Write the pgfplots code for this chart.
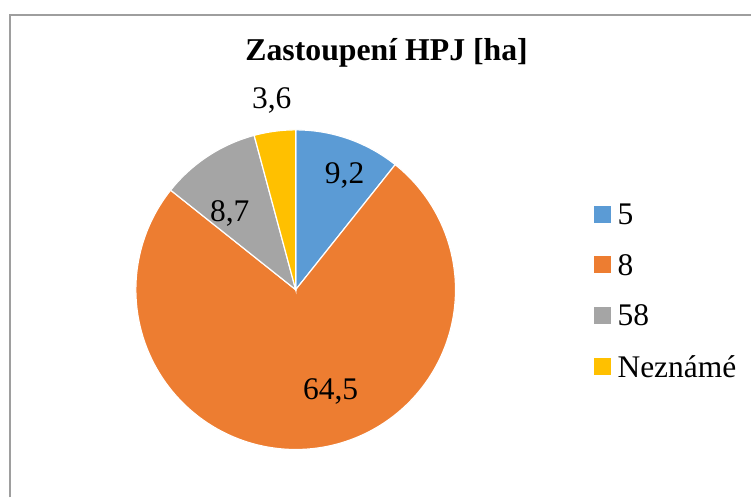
\documentclass[border=0pt]{standalone}
\usepackage{pgfplots}
\pgfplotsset{compat=1.18}
\usepackage{fontspec}
\setmainfont{Liberation Serif}
\definecolor{cA}{HTML}{5B9BD5}
\definecolor{cB}{HTML}{ED7D31}
\definecolor{cC}{HTML}{A5A5A5}
\definecolor{cD}{HTML}{FFC000}
\begin{document}
\begin{tikzpicture}
% values [ha]
\def\vA{9.2}\def\vB{64.5}\def\vC{8.7}\def\vD{3.6}
\pgfmathsetmacro\tot{\vA+\vB+\vC+\vD}
\pgfmathsetmacro\k{360/\tot}
\pgfmathsetmacro\aA{90}
\pgfmathsetmacro\aB{\aA-\k*\vA}
\pgfmathsetmacro\aC{\aB-\k*\vB}
\pgfmathsetmacro\aD{\aC-\k*\vC}
\pgfmathsetmacro\aE{\aD-\k*\vD}
\def\cx{296}\def\cy{208}\def\R{160}
\begin{axis}[
  width=752pt, height=498pt, scale only axis,
  xmin=0, xmax=752, ymin=0, ymax=498,
  hide axis, clip=false,
]
\addplot[fill=cA, draw=white, line width=1.2pt, domain=\aB:\aA, samples=60]
  ({\cx+\R*cos(x)},{\cy+\R*sin(x)}) -- (axis cs:\cx,\cy) -- cycle;
\addplot[fill=cB, draw=white, line width=1.2pt, domain=\aC:\aB, samples=200]
  ({\cx+\R*cos(x)},{\cy+\R*sin(x)}) -- (axis cs:\cx,\cy) -- cycle;
\addplot[fill=cC, draw=white, line width=1.2pt, domain=\aD:\aC, samples=60]
  ({\cx+\R*cos(x)},{\cy+\R*sin(x)}) -- (axis cs:\cx,\cy) -- cycle;
\addplot[fill=cD, draw=white, line width=1.2pt, domain=\aE:\aD, samples=40]
  ({\cx+\R*cos(x)},{\cy+\R*sin(x)}) -- (axis cs:\cx,\cy) -- cycle;
% frame
\draw[color=black!38, line width=1.6pt] (axis cs:10,0) -- (axis cs:10,483) -- (axis cs:752,483);
% title
\node[font=\fontsize{31.8}{36}\selectfont\bfseries] at (axis cs:387,445) {Zastoupení HPJ [ha]};
% data labels
\node[font=\fontsize{31.5}{36}\selectfont] at (axis cs:345,322) {9,2};
\node[font=\fontsize{31.5}{36}\selectfont] at (axis cs:331,106) {64,5};
\node[font=\fontsize{31.5}{36}\selectfont] at (axis cs:230,284) {8,7};
\node[font=\fontsize{31.5}{36}\selectfont] at (axis cs:272,397) {3,6};
% legend
\fill[cA] (axis cs:595,274.5) rectangle (axis cs:612,291.5);
\node[anchor=west, inner sep=0pt, font=\fontsize{31.5}{36}\selectfont] at (axis cs:618,283) {5};
\fill[cB] (axis cs:595,224.5) rectangle (axis cs:612,241.5);
\node[anchor=west, inner sep=0pt, font=\fontsize{31.5}{36}\selectfont] at (axis cs:618,233) {8};
\fill[cC] (axis cs:595,173.5) rectangle (axis cs:612,190.5);
\node[anchor=west, inner sep=0pt, font=\fontsize{31.5}{36}\selectfont] at (axis cs:618,182) {58};
\fill[cD] (axis cs:595,122.5) rectangle (axis cs:612,139.5);
\node[anchor=west, inner sep=0pt, font=\fontsize{31.5}{36}\selectfont] at (axis cs:618,131) {Neznámé};
\path (axis cs:0,0) rectangle (axis cs:752,498);
\end{axis}
\end{tikzpicture}
\end{document}
